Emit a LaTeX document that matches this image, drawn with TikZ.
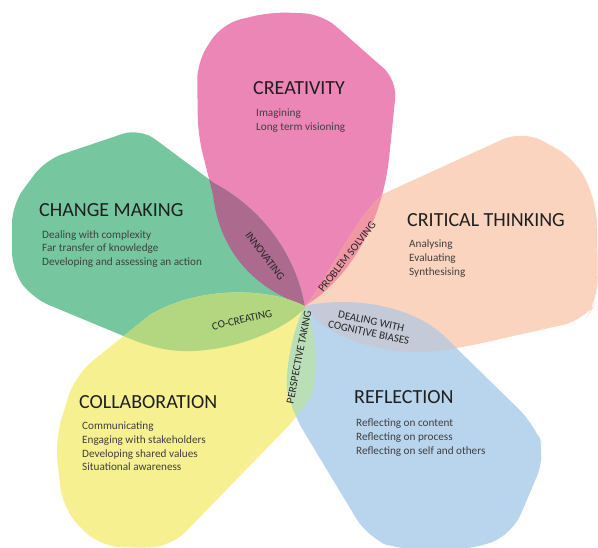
\documentclass[tikz,border=0pt]{standalone}
\usepackage{fontspec}
\setmainfont{Carlito}
\definecolor{cpink}{RGB}{236,134,182}
\definecolor{cgreen}{RGB}{118,199,160}
\definecolor{cpeach}{RGB}{250,212,190}
\definecolor{cyellow}{RGB}{247,240,145}
\definecolor{cblue}{RGB}{185,213,238}
\definecolor{cinnov}{RGB}{172,106,142}
\definecolor{cprobl}{RGB}{240,150,165}
\definecolor{cdeal}{RGB}{196,202,216}
\definecolor{cpersp}{RGB}{186,222,182}
\definecolor{ccocr}{RGB}{178,215,128}
\begin{document}
\def\pinkP{(305,306) .. controls (258,290) and (220,255) .. (213,195) [rounded corners=18pt] -- (198,135) -- (197,62) -- (222,24) -- (270,12) -- (322,14) -- (397,80) -- (391,140) [sharp corners] .. controls (383,215) and (355,275) .. (305,306) -- cycle}
\def\greenP{(305,308) .. controls (298,262) and (268,212) .. (214,183) [rounded corners=18pt] -- (140,128) -- (45,160) -- (12,205) -- (12,270) -- (32,298) -- (150,347) [sharp corners] .. controls (215,357) and (280,335) .. (305,308) -- cycle}
\def\yellowP{(305,306) .. controls (270,288) and (200,285) .. (150,315) [rounded corners=22pt] -- (75,375) -- (55,440) -- (63,510) -- (100,547) -- (170,548) -- (300,414) [sharp corners] .. controls (314,392) and (322,340) .. (305,306) -- cycle}
\def\blueP{(305,306) .. controls (350,296) and (412,305) .. (445,337) [rounded corners=22pt] -- (535,425) -- (546,455) -- (512,535) -- (470,550) -- (400,550) -- (368,538) -- (292,412) [sharp corners] .. controls (285,380) and (290,335) .. (305,306) -- cycle}
\def\peachP{(305,306) .. controls (328,280) and (352,222) .. (383,194) [rounded corners=22pt] -- (523,130) -- (577,160) -- (597,205) -- (598,300) -- (585,320) -- (460,348) [sharp corners] .. controls (400,356) and (330,345) .. (305,306) -- cycle}
\begin{tikzpicture}[x=1pt,y=-1pt,
  title/.style={anchor=base west,inner sep=0pt,font=\fontsize{20}{24}\selectfont,text=black!88},
  item/.style={anchor=base west,inner sep=0pt,font=\fontsize{11.2}{13}\selectfont,text=black!75},
  lens/.style={inner sep=0pt,font=\fontsize{11}{12}\selectfont,text=black!85,align=center}]
\useasboundingbox (0,0) rectangle (598,548);
\clip (0,0) rectangle (598,548);
% petals
\fill[cpink] \pinkP;
\fill[cpeach] \peachP;
\fill[cgreen] \greenP;
\fill[cyellow] \yellowP;
\fill[cblue] \blueP;
% overlaps
\begin{scope}
  \clip \pinkP;
  \fill[cinnov] \greenP;
  \fill[cprobl] \peachP;
\end{scope}
\begin{scope}
  \clip \blueP;
  \fill[cdeal] \peachP;
  \fill[cpersp] \yellowP;
\end{scope}
\begin{scope}
  \clip \greenP;
  \fill[ccocr] \yellowP;
\end{scope}
% creativity
\node[title] (crT) at (253,95) {CREATIVITY};
\node[item] (cr1) at (256,117) {Imagining};
\node[item] (cr2) at (256,130.5) {Long term visioning};
% change making
\node[title] (cmT) at (39,217) {CHANGE MAKING};
\node[item] (cm1) at (42,238.5) {Dealing with complexity};
\node[item] (cm2) at (42,252) {Far transfer of knowledge};
\node[item] (cm3) at (42,265.5) {Developing and assessing an action};
% critical thinking
\node[title] (ctT) at (407,227) {CRITICAL THINKING};
\node[item] (ct1) at (409,247.5) {Analysing};
\node[item] (ct2) at (409,261.5) {Evaluating};
\node[item] (ct3) at (409,275.5) {Synthesising};
% collaboration
\node[title] (coT) at (79,409) {COLLABORATION};
\node[item] (co1) at (82,429.5) {Communicating};
\node[item] (co2) at (82,443.5) {Engaging with stakeholders};
\node[item] (co3) at (82,457.5) {Developing shared values};
\node[item] (co4) at (82,471) {Situational awareness};
% reflection
\node[title] (reT) at (354,404) {REFLECTION};
\node[item] (re1) at (356,426.5) {Reflecting on content};
\node[item] (re2) at (356,440.5) {Reflecting on process};
\node[item] (re3) at (356,454.5) {Reflecting on self and others};
% overlap labels
\node[lens,rotate=-53] (innov) at (265,256) {INNOVATING};
\node[lens,rotate=51.6] (probl) at (347,257) {PROBLEM SOLVING};
\node[lens,rotate=12.5] (cocr) at (242,320) {CO-CREATING};
\node[lens,rotate=79] (persp) at (299,357) {PERSPECTIVE TAKING};
\node[lens,rotate=-12] (deal) at (370,327) {DEALING WITH\\COGNITIVE BIASES};
\end{tikzpicture}
\end{document}
